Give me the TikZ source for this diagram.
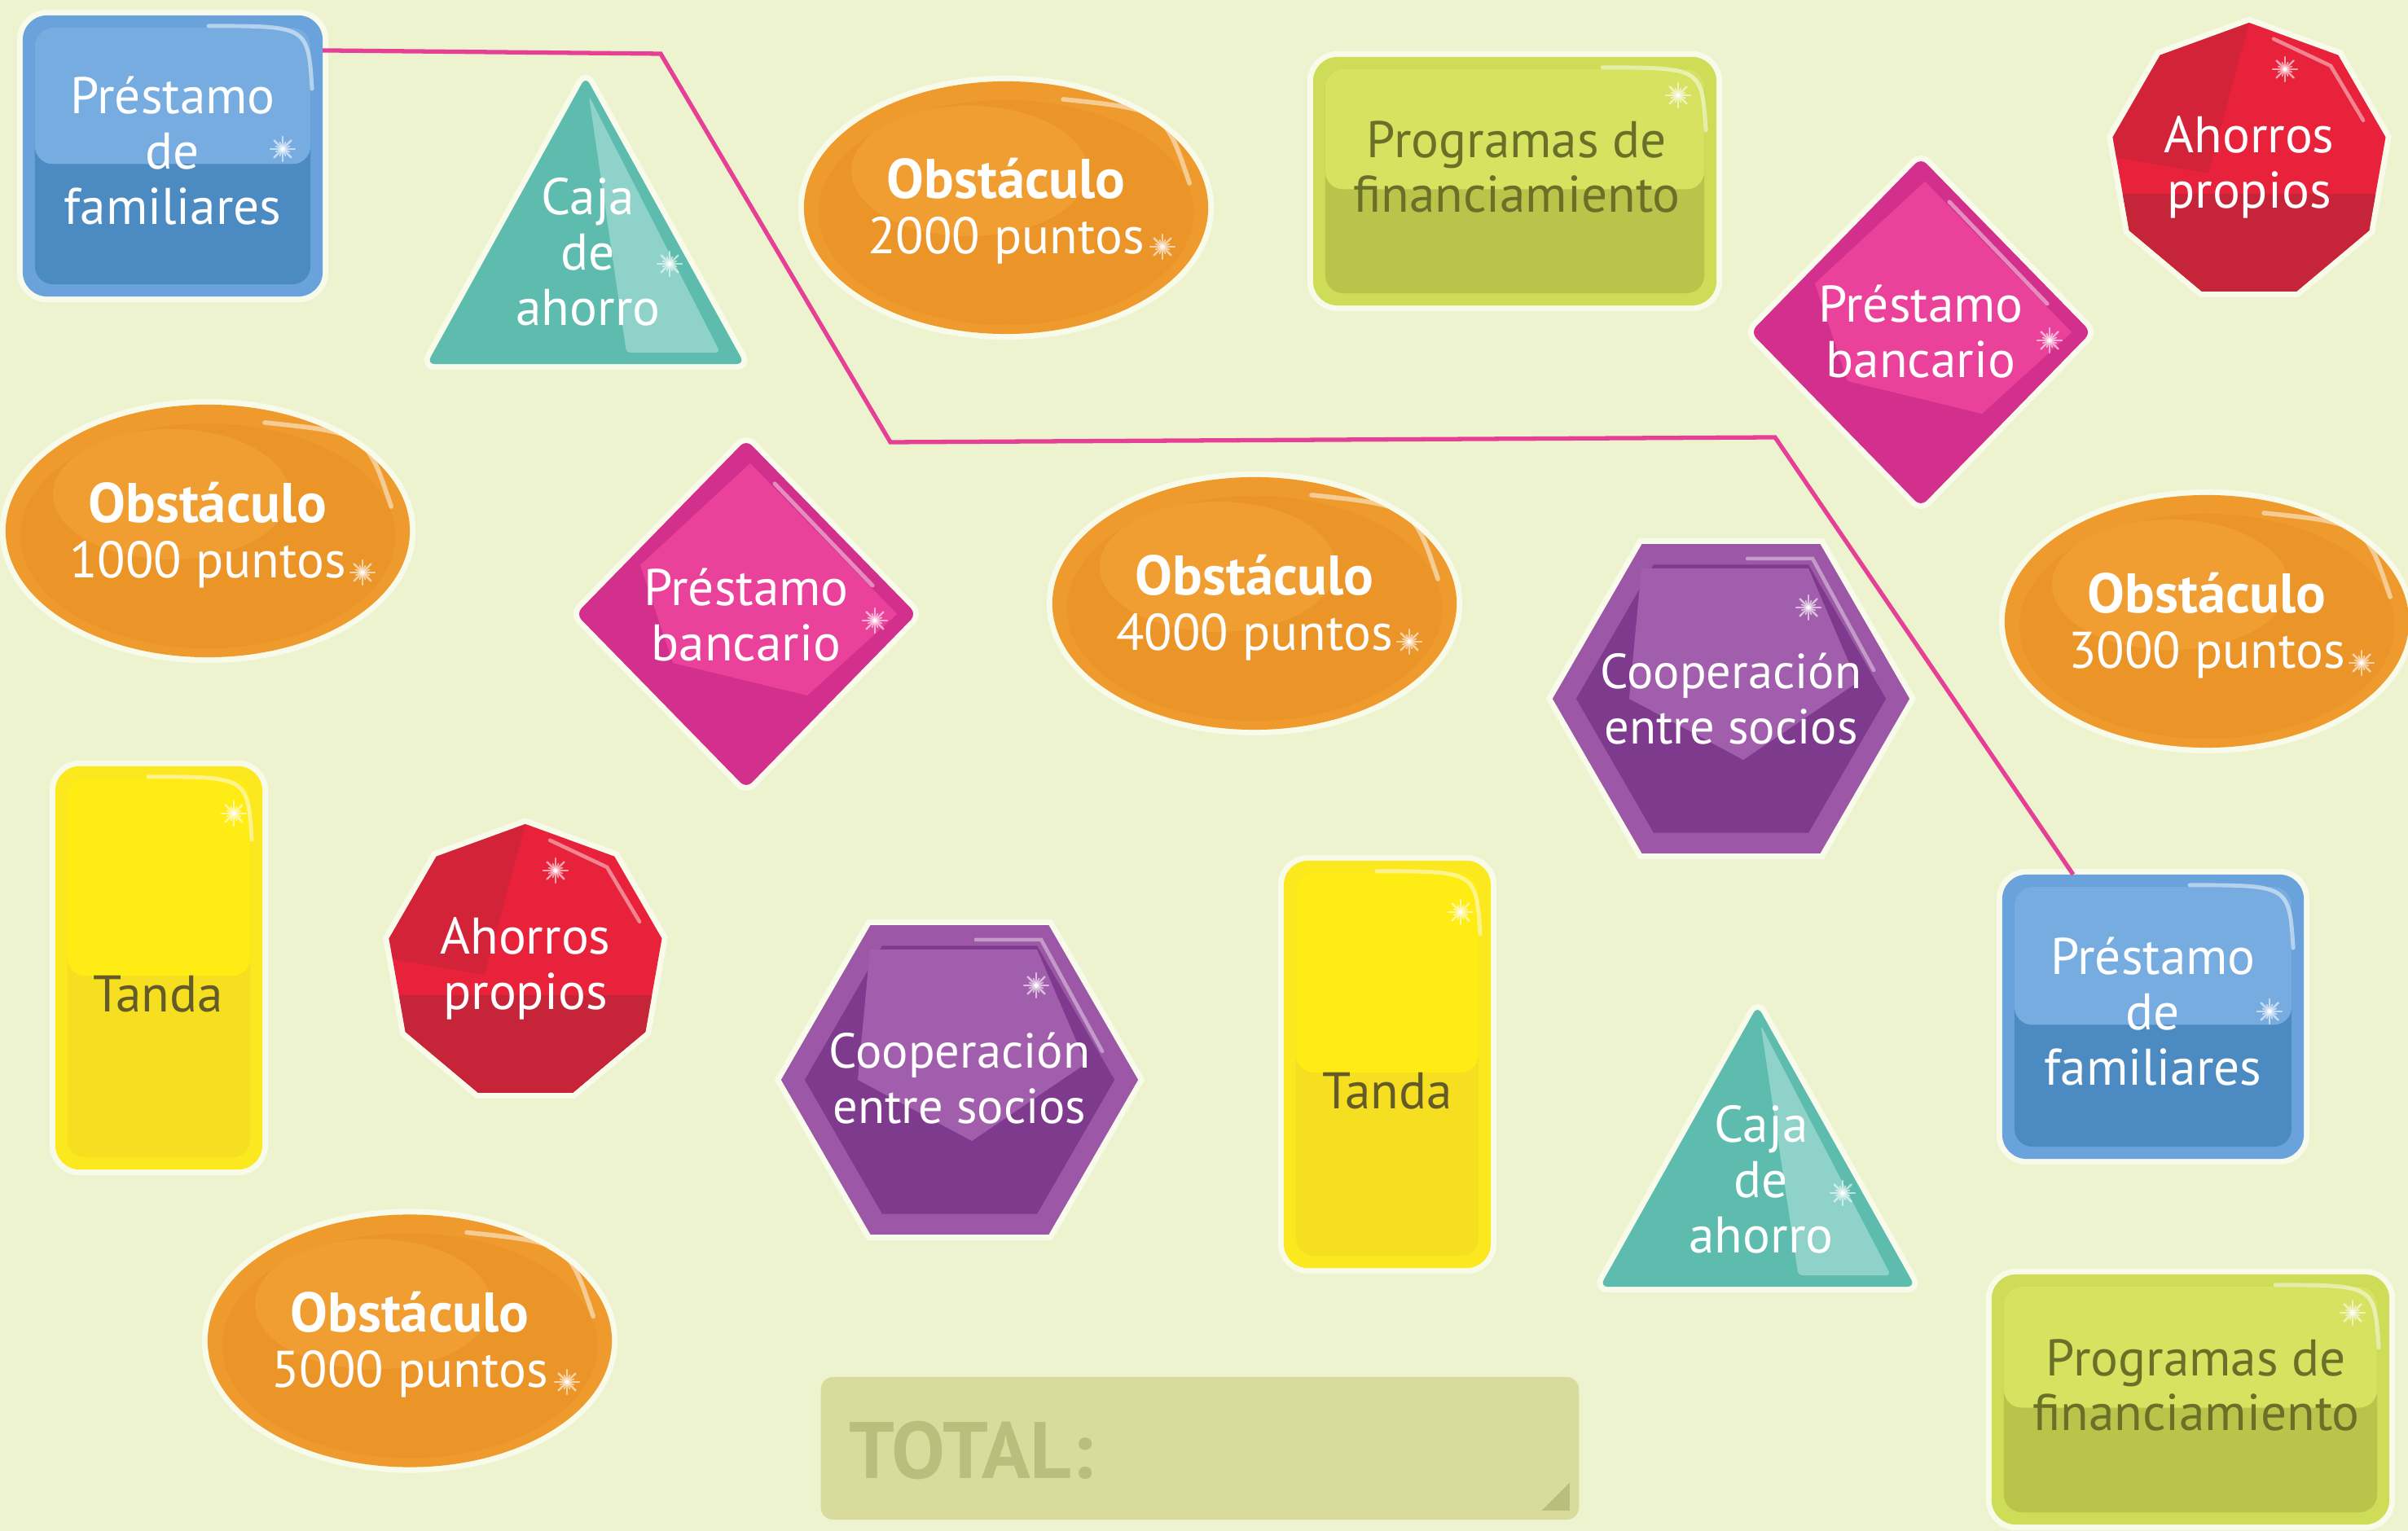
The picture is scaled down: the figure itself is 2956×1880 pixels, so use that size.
\documentclass[tikz,border=0pt]{standalone}
\usepackage{fontspec}
\setmainfont{PT Sans}
\usetikzlibrary{shapes.geometric,calc}
\definecolor{bg}{RGB}{237,243,207}
\definecolor{halocol}{RGB}{249,251,234}
\definecolor{bluerim}{RGB}{106,163,220}
\definecolor{bluelt}{RGB}{118,172,223}
\definecolor{bluedk}{RGB}{76,138,194}
\definecolor{tealdk}{RGB}{94,188,174}
\definecolor{teallt}{RGB}{142,210,202}
\definecolor{orng}{RGB}{238,154,44}
\definecolor{orngin}{RGB}{235,148,40}
\definecolor{ornglt}{RGB}{240,158,50}
\definecolor{grnrim}{RGB}{206,220,88}
\definecolor{grnlt}{RGB}{214,226,96}
\definecolor{grndk}{RGB}{186,196,74}
\definecolor{grntxt}{RGB}{106,112,40}
\definecolor{mag}{RGB}{234,66,154}
\definecolor{magdk}{RGB}{210,48,140}
\definecolor{redlt}{RGB}{232,34,58}
\definecolor{reddk}{RGB}{198,36,56}
\definecolor{purrim}{RGB}{156,88,166}
\definecolor{purdk}{RGB}{126,58,140}
\definecolor{purlt}{RGB}{160,94,172}
\definecolor{yelrim}{RGB}{252,232,30}
\definecolor{yel}{RGB}{255,236,20}
\definecolor{yeldk}{RGB}{246,222,32}
\definecolor{yeltxt}{RGB}{100,92,40}
\definecolor{pinkline}{RGB}{230,64,150}
\definecolor{totfill}{RGB}{216,219,156}
\definecolor{tottxt}{RGB}{186,190,124}
\newcommand{\obst}[1]{{\bfseries\fontsize{19.5}{19.3}\selectfont Obstáculo}\\#1}
\tikzset{
  haloed/.style={preaction={draw=halocol, line width=4pt}},
  wtxt/.style={text=white, align=center, inner sep=0pt, font=\fontsize{18}{19.3}\selectfont},
  htxt/.style={wtxt, font=\fontsize{17.2}{19.3}\selectfont},
  gtxt/.style={wtxt, text=grntxt},
  ytxt/.style={wtxt, text=yeltxt},
  boxgem/.style n args={3}{rectangle, rounded corners=0.3cm, inner sep=0pt, outer sep=0pt, haloed, fill=#1,
    path picture={
      \fill[#3, rounded corners=0.22cm] ([shift={(0.15cm,-0.15cm)}]path picture bounding box.north west) rectangle ([shift={(-0.15cm,0.15cm)}]path picture bounding box.south east);
      \fill[#2, rounded corners=0.22cm] ([shift={(0.15cm,-0.15cm)}]path picture bounding box.north west) rectangle ([shift={(-0.15cm,-0.1cm)}]path picture bounding box.east);
      \draw[white, opacity=0.5, line width=1.4pt, line cap=round] ([shift={(-1.4cm,-0.13cm)}]path picture bounding box.north east) .. controls ([shift={(-0.18cm,-0.13cm)}]path picture bounding box.north east) .. ([shift={(-0.13cm,-0.9cm)}]path picture bounding box.north east);
    }},
  ellgem/.style={ellipse, minimum width=4.96cm, minimum height=3.1cm, inner sep=0pt, outer sep=0pt, haloed, fill=orng,
    path picture={
      \fill[orngin] ([yshift=-0.06cm]path picture bounding box.center) ellipse [x radius=2.3cm, y radius=1.38cm];
      \fill[ornglt] ([shift={(-0.45cm,0.45cm)}]path picture bounding box.center) ellipse [x radius=1.45cm, y radius=0.8cm];
      \draw[white, opacity=0.5, line width=1.6pt, line cap=round] ([shift={(0.7cm,1.33cm)}]path picture bounding box.center) .. controls ([shift={(1.95cm,1.2cm)}]path picture bounding box.center) .. ([shift={(2.25cm,0.3cm)}]path picture bounding box.center);
    }},
  diagem/.style={diamond, minimum width=4.18cm, minimum height=4.28cm, inner sep=0pt, outer sep=0pt, haloed, fill=magdk, rounded corners=0.1cm,
    path picture={
      \fill[mag, sharp corners] ([shift={(0.05cm,1.85cm)}]path picture bounding box.center) -- ([shift={(1.85cm,0cm)}]path picture bounding box.center) -- ([shift={(0.75cm,-1.0cm)}]path picture bounding box.center) -- ([shift={(-0.9cm,-0.6cm)}]path picture bounding box.center) -- ([shift={(-1.3cm,0.6cm)}]path picture bounding box.center) -- cycle;
      \draw[white, opacity=0.45, line width=1.4pt, line cap=round] ([shift={(0.35cm,1.6cm)}]path picture bounding box.center) -- ([shift={(1.55cm,0.35cm)}]path picture bounding box.center);
    }},
  nongem/.style={regular polygon, regular polygon sides=9, minimum size=3.4cm, inner sep=0pt, outer sep=0pt, haloed, fill=redlt,
    path picture={
      \fill[reddk] ([yshift=-0.45cm]path picture bounding box.west) rectangle (path picture bounding box.south east);
      \fill[reddk, opacity=0.6] (path picture bounding box.north) -- ([shift={(-0.5cm,-0.2cm)}]path picture bounding box.center) -- (path picture bounding box.west) -- (path picture bounding box.north west) -- cycle;
      \draw[white, opacity=0.45, line width=1.3pt, line cap=round] ([shift={(0.3cm,1.45cm)}]path picture bounding box.center) -- ([shift={(1.0cm,1.12cm)}]path picture bounding box.center) -- ([shift={(1.4cm,0.45cm)}]path picture bounding box.center);
    }},
  hexgem/.style={regular polygon, regular polygon sides=6, minimum size=4.38cm, inner sep=0pt, outer sep=0pt, haloed, fill=purrim,
    path picture={
      \fill[purdk] (path picture bounding box.center) +(0:1.9cm) -- +(60:1.9cm) -- +(120:1.9cm) -- +(180:1.9cm) -- +(240:1.9cm) -- +(300:1.9cm) -- cycle;
      \fill[purlt] ([shift={(-1.1cm,1.6cm)}]path picture bounding box.center) -- ([shift={(0.95cm,1.6cm)}]path picture bounding box.center) -- ([shift={(1.55cm,0.2cm)}]path picture bounding box.center) -- ([shift={(0.15cm,-0.75cm)}]path picture bounding box.center) -- ([shift={(-1.25cm,0cm)}]path picture bounding box.center) -- cycle;
      \draw[white, opacity=0.4, line width=1.3pt, line cap=round] ([shift={(0.2cm,1.72cm)}]path picture bounding box.center) -- ([shift={(1.0cm,1.72cm)}]path picture bounding box.center) -- ([shift={(1.75cm,0.35cm)}]path picture bounding box.center);
    }},
  tribox/.style={rectangle, inner sep=0pt, outer sep=0pt},
  trigem/.style={haloed, fill=tealdk, rounded corners=0.1cm},
  sparkle/.pic={
    \foreach \a in {0,45,...,315} \draw[line width=0.7pt, line cap=round] (0,0) -- (\a:0.15cm);
    \foreach \a in {22.5,67.5,...,337.5} \draw[line width=0.5pt, line cap=round] (0,0) -- (\a:0.09cm);
  },
  linkline/.style={draw=pinkline, line width=1.5pt},
}
\begin{document}
\begin{tikzpicture}[x=0.01cm, y=-0.01cm]
\useasboundingbox (0,0) rectangle (2956,1880);
\fill[bg] (0,0) rectangle (2956,1880);

% row 1
\node[boxgem={bluerim}{bluelt}{bluedk}, minimum width=3.68cm, minimum height=3.45cm] (A) at (212,191.5) {};
\node[wtxt] (At) at (212,185) {Préstamo\\de\\familiares};

\node[tribox, minimum width=3.9cm, minimum height=3.53cm] (B) at (719,270.5) {};
\path[trigem] (B.north) -- (B.south east) -- (B.south west) -- cycle;
\fill[teallt, rounded corners=0.05cm] ($(B.north)+(4,24)$) -- ($(B.south east)+(-30,-14)$) -- ($(B.south)+(50,-14)$) -- cycle;
\node[wtxt] (Bt) at (722,309) {Caja\\de\\ahorro};

\node[ellgem] (C) at (1235,255) {};
\node[wtxt] (Ct) at (1235,259) {\obst{2000 puntos}};

\node[boxgem={grnrim}{grnlt}{grndk}, minimum width=4.95cm, minimum height=3.05cm] (D) at (1859.5,222.5) {};
\node[gtxt] (Dt) at (1862,205) {Programas de\\financiamiento};

\node[diagem] (E) at (2358,408) {};
\node[wtxt] (Et) at (2358,407) {Préstamo\\bancario};

\node[nongem] (F) at (2761,198) {};
\node[wtxt] (Ft) at (2761,205) {Ahorros\\propios};

% row 2
\node[ellgem] (G) at (255,652) {};
\node[wtxt] (Gt) at (255,657) {\obst{1000 puntos}};

\node[diagem] (H) at (916,754) {};
\node[wtxt] (Ht) at (916,755) {Préstamo\\bancario};

\node[ellgem] (I) at (1540,741) {};
\node[wtxt] (It) at (1540,746) {\obst{4000 puntos}};

\node[hexgem] (J) at (2125,858) {};
\node[htxt] (Jt) at (2125,858) {Cooperación\\entre socios};

\node[ellgem] (K) at (2709,763) {};
\node[wtxt] (Kt) at (2709,768) {\obst{3000 puntos}};

% row 3
\node[boxgem={yelrim}{yel}{yeldk}, minimum width=2.54cm, minimum height=4.95cm] (L) at (195,1188.5) {};
\node[ytxt] (Lt) at (194,1221) {Tanda};

\node[nongem] (M) at (645,1182) {};
\node[wtxt] (Mt) at (645,1189) {Ahorros\\propios};

\node[hexgem] (N) at (1178,1326) {};
\node[htxt] (Nt) at (1178,1324) {Cooperación\\entre socios};

\node[boxgem={yelrim}{yel}{yeldk}, minimum width=2.54cm, minimum height=5.0cm] (O) at (1703,1307) {};
\node[ytxt] (Ot) at (1703,1340) {Tanda};

\node[tribox, minimum width=3.87cm, minimum height=3.45cm] (P) at (2157.5,1407.5) {};
\path[trigem] (P.north) -- (P.south east) -- (P.south west) -- cycle;
\fill[teallt, rounded corners=0.05cm] ($(P.north)+(4,24)$) -- ($(P.south east)+(-30,-14)$) -- ($(P.south)+(50,-14)$) -- cycle;
\node[wtxt] (Pt) at (2162,1448) {Caja\\de\\ahorro};

\node[boxgem={bluerim}{bluelt}{bluedk}, minimum width=3.7cm, minimum height=3.49cm] (Q) at (2643,1248.5) {};
\node[wtxt] (Qt) at (2643,1242) {Préstamo\\de\\familiares};

% row 4
\node[ellgem] (R) at (503,1646.5) {};
\node[wtxt] (Rt) at (503,1651) {\obst{5000 puntos}};

\node[rectangle, rounded corners=0.15cm, fill=totfill, inner sep=0pt, minimum width=9.3cm, minimum height=1.75cm] (S) at (1473,1778.5) {};
\fill[tottxt] ($(S.south east)+(-12,-12)$) -- ++(0,-34) -- ++(-34,34) -- cycle;
\node[anchor=west, inner sep=0pt, text=tottxt, font=\bfseries\fontsize{28}{30}\selectfont] (St) at (1042,1781) {TOTAL:};

\node[boxgem={grnrim}{grnlt}{grndk}, minimum width=4.88cm, minimum height=3.07cm] (T) at (2689,1718.5) {};
\node[gtxt] (Tt) at (2696,1701) {Programas de\\financiamiento};

% sparkles
\foreach \p in {(347,183),(822,324),(1427,303),(2060,117),(2516,418),(2805,85),(445,703),(1074,762),(1730,788),(2220,746),(2899,814),(287,999),(682,1069),(1272,1210),(1793,1120),(2262,1465),(2786,1242),(696,1697),(2888,1612)}
  \pic[color=white, opacity=0.6] at \p {sparkle};

% connector
\coordinate (c1) at (811,66);
\coordinate (c2) at (1093,543);
\coordinate (c3) at (2179,537);
\draw[linkline] ([yshift=-0.43cm]A.north east) -- (c1) -- (c2) -- (c3) -- ([xshift=0.87cm]Q.north west);
\end{tikzpicture}
\end{document}
